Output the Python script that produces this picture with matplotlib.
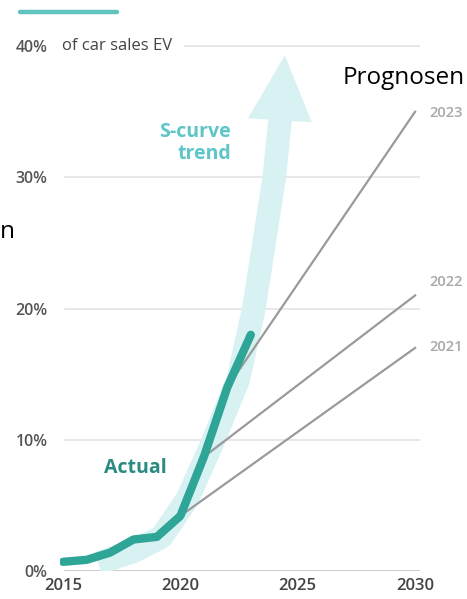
#!/usr/bin/env python3

import matplotlib.pyplot as plt
from matplotlib.patches import Polygon

plt.rcParams["font.family"] = ["Open Sans", "DejaVu Sans"]

# actual EV share of car sales (%)
years = [2015, 2016, 2017, 2018, 2019, 2020, 2021, 2022, 2023]
actual = [0.7, 0.85, 1.4, 2.4, 2.6, 4.2, 8.7, 14.0, 18.0]

# forecasts: label, start (year, %), end (year, %)
forecast_labels = ["2021", "2022", "2023"]
forecast_start = [(2020, 4.2), (2021, 8.7), (2022, 14.0)]
forecast_end = [(2030, 17.0), (2030, 21.0), (2030, 35.0)]

# S-curve trend arrow
scurve_x = [2016.5, 2018, 2019.2, 2020.3, 2021.3, 2022.45, 2023.13, 2024.0, 2024.25]
scurve_y = [0.6, 1.5, 2.6, 5.5, 9.5, 14.5, 20.0, 30.0, 34.4]
head_x = [2022.88, 2024.45, 2025.6]
head_y = [34.5, 39.3, 34.2]

yticks = [0, 10, 20, 30, 40]
xticks = [2015, 2020, 2025, 2030]

fig = plt.figure(figsize=(4.67, 5.99), dpi=100)
ax = fig.add_axes([60 / 467, 28 / 599, 360 / 467, 538 / 599])
ax.set_xlim(2014.87, 2030.21)
ax.set_ylim(0, 41)

# grid
for y in yticks[1:4]:
    ax.plot([2015.1, 2030.2], [y, y], color="#e4e4e4", lw=1.2, zorder=1)
ax.plot([2020.2, 2030.2], [40, 40], color="#e4e4e4", lw=1.2, zorder=1)
ax.plot([2015.1, 2030.2], [0, 0], color="#c8c8c8", lw=2, zorder=1)

# s-curve arrow
ax.plot(scurve_x, scurve_y, color="#d8f2f4", lw=17, solid_capstyle="butt",
        solid_joinstyle="round", zorder=2)
ax.add_patch(Polygon(list(zip(head_x, head_y)), closed=True,
                     facecolor="#d8f2f4", edgecolor="none", zorder=2))

# forecasts
label_shift = {"2021": 0.1, "2022": 1.0, "2023": -0.1}
for lab, s, e in zip(forecast_labels, forecast_start, forecast_end):
    ax.plot([s[0], e[0]], [s[1], e[1]], color="#9a9a9a", lw=1.6, zorder=3)
    ax.text(e[0] + 0.62, e[1] + label_shift[lab], lab, color="#a8a8a8",
            fontsize=10.5, fontweight="semibold", ha="left", va="center",
            clip_on=False)

# actual
ax.plot(years, actual, color="#2ea596", lw=6, solid_capstyle="round",
        solid_joinstyle="round", zorder=4)

ax.text(2022.15, 32.6, "S-curve\ntrend", color="#5ec6c8", fontsize=14,
        fontweight="bold", ha="right", va="center", linespacing=1.1)
ax.text(2018.1, 7.85, "Actual", color="#2b8a82", fontsize=14,
        fontweight="bold", ha="center", va="center")
ax.text(2014.96, 40, "of car sales EV", color="#444444", fontsize=12,
        ha="left", va="center")

fig.text(465 / 467, 1 - 78 / 599, "Prognosen", color="black", fontsize=17.5,
         ha="right", va="center")
fig.text(0, 1 - 232 / 599, "n", color="black", fontsize=17.5,
         ha="left", va="center")

# legend swatch on top
fig.add_artist(plt.Line2D([20 / 467, 117 / 467], [1 - 12 / 599, 1 - 12 / 599],
                          color="#5ec4bd", lw=3.2, solid_capstyle="round"))

ax.set_yticks(yticks)
ax.set_yticklabels([f"{t}%" for t in yticks])
ax.set_xticks(xticks)
ax.set_xticklabels([str(t) for t in xticks])
ax.tick_params(axis="y", length=0, pad=9, labelsize=11.5, labelcolor="#555555")
ax.tick_params(axis="x", length=0, pad=5, labelsize=12, labelcolor="#444444")
for lab in ax.get_xticklabels() + ax.get_yticklabels():
    lab.set_fontweight("semibold")
for sp in ax.spines.values():
    sp.set_visible(False)

fig.savefig("out.png", dpi=100)
